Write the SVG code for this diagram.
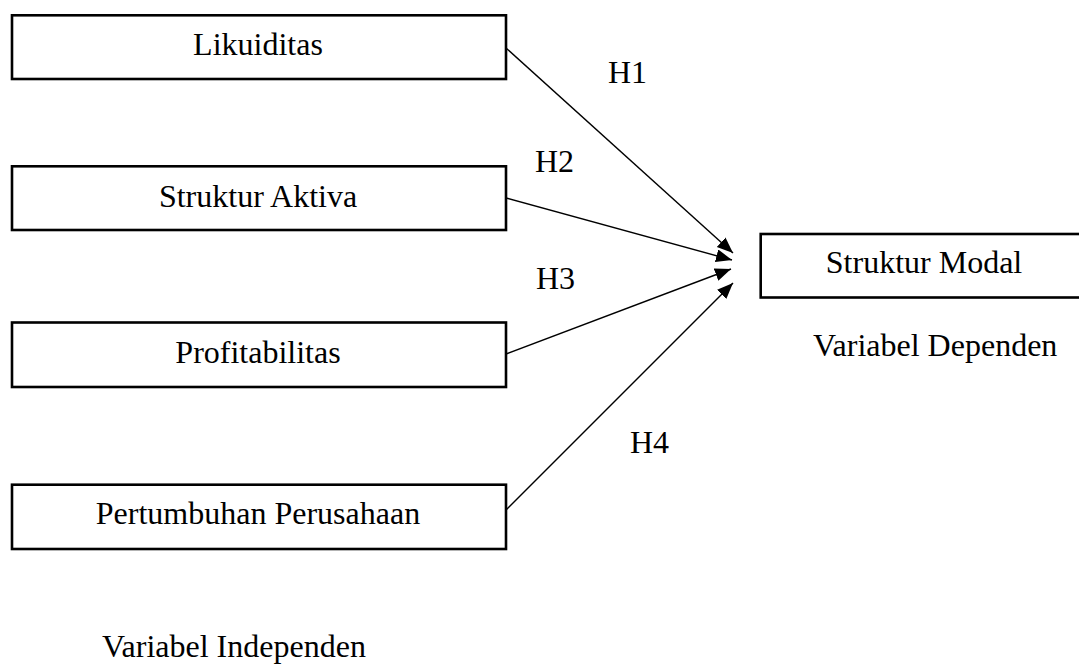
<svg xmlns="http://www.w3.org/2000/svg" width="1079" height="664" viewBox="0 0 1079 664">
<style>
.box{fill:#fff;stroke:#000;stroke-width:2.6}
.t{font-family:"Liberation Serif","Times New Roman",serif;font-size:32px;fill:#000}
.c{text-anchor:middle}
.edge{stroke:#000;stroke-width:1.4;fill:none;marker-end:url(#ah)}
</style>
<defs>
<marker id="ah" markerUnits="userSpaceOnUse" markerWidth="18" markerHeight="14" refX="16" refY="6.5" orient="auto">
<path d="M0,0 L16,6.5 L0,13 Z" fill="#000"/>
</marker>
</defs>
<rect width="1079" height="664" fill="#fff"/>
<g id="connectors">
<line class="edge" x1="506" y1="48" x2="733" y2="253"/>
<line class="edge" x1="506" y1="198" x2="732" y2="260"/>
<line class="edge" x1="506" y1="354" x2="731" y2="269"/>
<line class="edge" x1="506" y1="510" x2="733" y2="283"/>
</g>
<g id="node-likuiditas">
<rect class="box" x="12" y="15.3" width="494" height="63.7"/>
<text class="t c" x="258" y="55">Likuiditas</text>
</g>
<g id="node-struktur-aktiva">
<rect class="box" x="12" y="166.3" width="494" height="63.7"/>
<text class="t c" x="258" y="207">Struktur Aktiva</text>
</g>
<g id="node-profitabilitas">
<rect class="box" x="12" y="322.5" width="494" height="64.5"/>
<text class="t c" x="258" y="363">Profitabilitas</text>
</g>
<g id="node-pertumbuhan">
<rect class="box" x="12" y="484.7" width="494" height="64.3"/>
<text class="t c" x="258" y="524">Pertumbuhan Perusahaan</text>
</g>
<g id="node-struktur-modal">
<rect class="box" x="760.7" y="234" width="330" height="63.5"/>
<text class="t c" x="924" y="273">Struktur Modal</text>
</g>
<g id="labels">
<text class="t" x="608" y="83">H1</text>
<text class="t" x="535" y="172">H2</text>
<text class="t" x="536" y="289">H3</text>
<text class="t" x="630" y="453">H4</text>
<text class="t" x="813" y="356">Variabel Dependen</text>
<text class="t" x="102" y="657">Variabel Independen</text>
</g>
</svg>
